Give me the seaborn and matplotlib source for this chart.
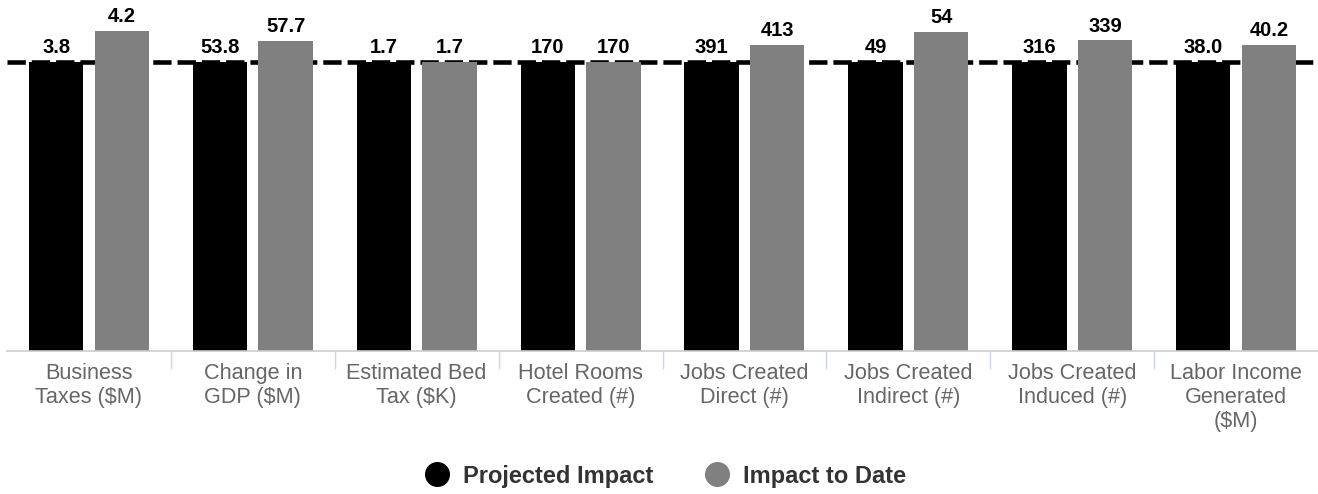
import seaborn as sns
import matplotlib.pyplot as plt
import pandas as pd
from matplotlib.lines import Line2D

# chart values
categories = ["Business\nTaxes ($M)", "Change in\nGDP ($M)", "Estimated Bed\nTax ($K)",
              "Hotel Rooms\nCreated (#)", "Jobs Created\nDirect (#)", "Jobs Created\nIndirect (#)",
              "Jobs Created\nInduced (#)", "Labor Income\nGenerated\n($M)"]
projected = [3.8, 53.8, 1.7, 170, 391, 49, 316, 38.0]
to_date = [4.2, 57.7, 1.7, 170, 413, 54, 339, 40.2]
decimals = [1, 1, 1, 0, 0, 0, 0, 1]
series = ["Projected Impact", "Impact to Date"]
colors = {"Projected Impact": "#000000", "Impact to Date": "#808080"}

# bars are shown relative to the projected value
rows = []
for cat, p, d in zip(categories, projected, to_date):
    rows.append({"category": cat, "series": series[0], "ratio": 1.0})
    rows.append({"category": cat, "series": series[1], "ratio": d / p})
df = pd.DataFrame(rows)

sns.set_style("white")
plt.rcParams['font.family'] = ['Liberation Sans', 'DejaVu Sans']

fig = plt.figure(figsize=(13.18, 4.94), dpi=100)
ax = fig.add_axes([7 / 1318, 1 - 351 / 494, 1311 / 1318, 351 / 494])

sns.barplot(data=df, x="category", y="ratio", hue="series", hue_order=series,
            palette=colors, width=0.8, gap=0.17, legend=False, ax=ax,
            saturation=1, linewidth=0, edgecolor="none", zorder=2)

# dashed reference line at the projected level, behind the bars
ax.axhline(1.0, color="black", lw=3.3, dashes=(4, 1.3), zorder=0.5)

for cont, vals in zip(ax.containers, [projected, to_date]):
    labels = [f"{v:.{n}f}" for v, n in zip(vals, decimals)]
    ax.bar_label(cont, labels=labels, padding=3.5, fontsize=14.5,
                 fontweight="bold", color="black")

ax.set_xlim(-0.5, 7.5)
ax.set_ylim(0, 351 / 289.5)
ax.set_xlabel("")
ax.set_ylabel("")
ax.set_yticks([])
for s in ["top", "left", "right"]:
    ax.spines[s].set_visible(False)
ax.spines["bottom"].set_color("#cccccc")
ax.spines["bottom"].set_linewidth(1.2)

ax.set_xticks([i + 0.5 for i in range(7)], minor=True)
ax.tick_params(axis="x", which="major", length=0, pad=8.6, labelsize=15.6,
               labelcolor="#666666")
ax.tick_params(axis="x", which="minor", length=13, width=1, color="#ccd6eb",
               direction="out", bottom=True)

handles = [Line2D([], [], marker="o", ls="", color=colors[s], markersize=17) for s in series]
fig.legend(handles, series, loc="center", bbox_to_anchor=(0.505, 0.036), ncol=2,
           frameon=False, prop={"weight": "bold", "size": 17}, labelcolor="#333333",
           handlelength=1.0, handletextpad=0.6, columnspacing=2.2)

fig.savefig("out.png", dpi=100)
